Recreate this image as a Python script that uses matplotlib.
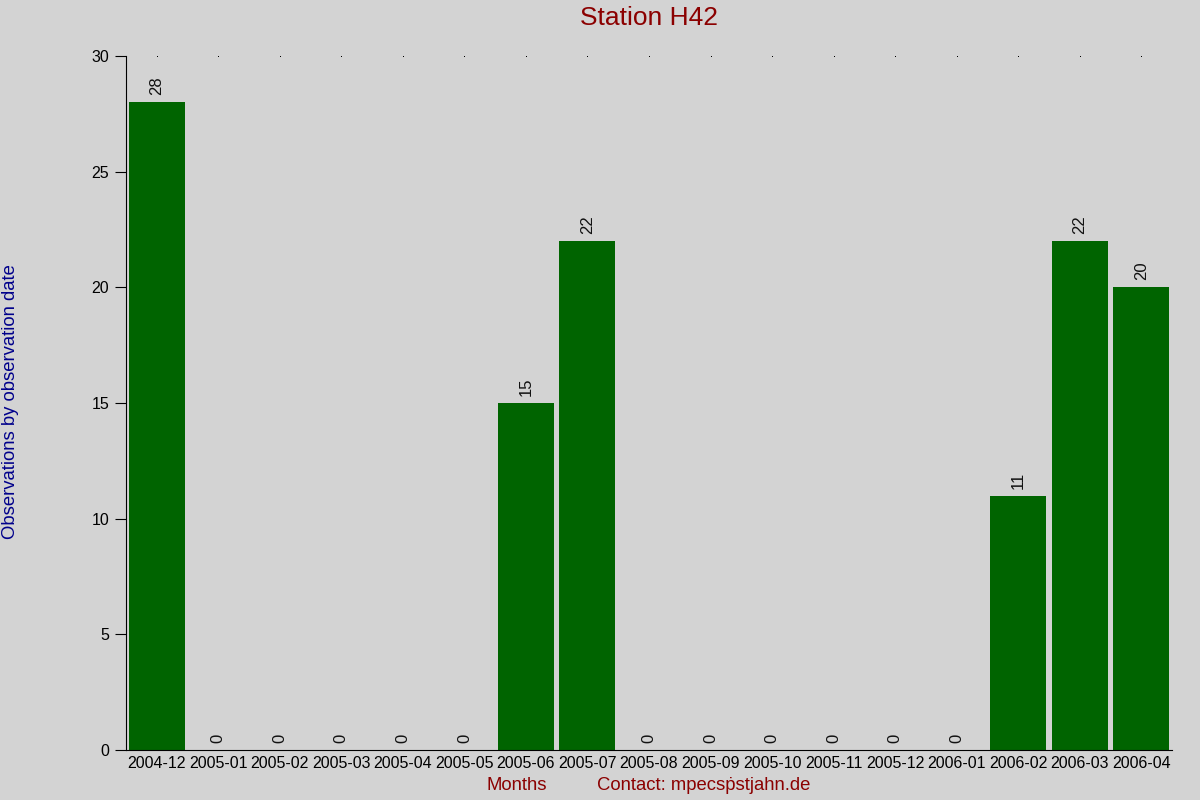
import matplotlib.pyplot as plt

plt.rcParams['font.family'] = ['Liberation Sans', 'DejaVu Sans']

months = ['2004-12', '2005-01', '2005-02', '2005-03', '2005-04', '2005-05',
          '2005-06', '2005-07', '2005-08', '2005-09', '2005-10', '2005-11',
          '2005-12', '2006-01', '2006-02', '2006-03', '2006-04']
counts = [28, 0, 0, 0, 0, 0, 15, 22, 0, 0, 0, 0, 0, 0, 11, 22, 20]
y_ticks = [0, 5, 10, 15, 20, 25, 30]

bg = '#d3d3d3'
fig = plt.figure(figsize=(12, 8), dpi=100, facecolor=bg)
ax = fig.add_axes([126 / 1200, 1 - 750 / 800, 1046 / 1200, 694 / 800])
ax.set_facecolor(bg)

x = list(range(len(months)))
ax.bar(x, counts, width=0.91, color='#006400')

# rotated value labels above bars
for xi, c in zip(x, counts):
    ax.annotate(str(c), (xi, c), xytext=(0, 5), textcoords='offset points',
                rotation=90, ha='center', va='bottom', fontsize=12,
                color='#111111')

# small dots along the top edge
ax.plot(x, [30] * len(x), ls='none', marker='s', ms=0.7, mew=0,
        color='black', clip_on=False)

ax.set_xlim(-0.5, len(months) - 0.5)
ax.set_ylim(0, 30)
ax.set_yticks(y_ticks)
ax.set_xticks(x)
ax.set_xticklabels(months)
ax.tick_params(axis='x', length=0, pad=4, labelsize=11.5, colors='black')
ax.tick_params(axis='y', length=8, pad=4, labelsize=11.5, colors='black')

for s in ['top', 'right']:
    ax.spines[s].set_visible(False)
ax.spines['left'].set_color('black')
ax.spines['bottom'].set_color('black')

fig.text(649 / 1200, 1 - 18 / 800, 'Station H42', ha='center', va='center',
         fontsize=19, color='#8b0000')
fig.text(11 / 1200, 1 - 402 / 800, 'Observations by observation date',
         rotation=90, ha='center', va='center', fontsize=13.3,
         color='#00008b')
fig.text(517 / 1200, 1 - 786 / 800, 'Months', ha='center', va='center',
         fontsize=13.3, color='#8b0000')
fig.text(704 / 1200, 1 - 786 / 800, 'Contact: mpecs\u1e57stjahn.de',
         ha='center', va='center', fontsize=13.3, color='#8b0000')

fig.savefig('out.png', dpi=100, facecolor=bg)
